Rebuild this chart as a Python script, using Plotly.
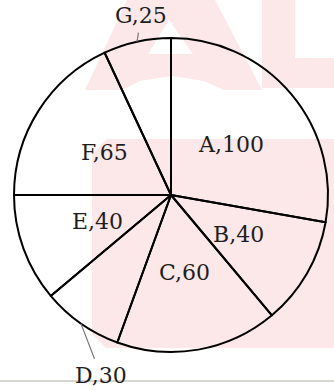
import numpy as np
import plotly.graph_objects as go

# slice labels and values (degrees of the circle)
labels = ['A', 'B', 'C', 'D', 'E', 'F', 'G']
values = [100, 40, 60, 30, 40, 65, 25]
outside = ['D', 'G']

W, H = 334, 390
CX, CY, R = 171, 195, 157   # pie centre and radius in pixels
PINK = '#fde8e9'


def px(x, y):
    # pixel position -> paper coordinates
    return x / W, 1 - y / H


def path(points):
    s = ''
    for i, (x, y) in enumerate(points):
        a, b = px(x, y)
        s += ('M' if i == 0 else 'L') + f'{a:.4f},{b:.4f} '
    return s + 'Z'


fig = go.Figure()
fig.add_trace(go.Pie(
    labels=labels,
    values=values,
    sort=False,
    direction='clockwise',
    rotation=0,
    textinfo='none',
    marker=dict(colors=['rgba(0,0,0,0)'] * len(labels),
                line=dict(color='#000000', width=2)),
    domain=dict(x=[(CX - R) / W, (CX + R) / W], y=[1 - (CY + R) / H, 1 - (CY - R) / H]),
    showlegend=False,
    hoverinfo='label+value',
))

# labels sit on each slice's middle angle
total = sum(values)
mid = (np.cumsum(values) - np.array(values) / 2) / total * 2 * np.pi
font = dict(family='DejaVu Serif', size=22, color='#1e1e1e')
annotations = []
for lab, val, ang in zip(labels, values, mid):
    dx, dy = np.sin(ang), -np.cos(ang)
    if lab in outside:
        ex, ey = px(CX + R * dx, CY + R * dy)
        off = (4, -26) if lab == 'G' else (20, 52)
        annotations.append(dict(x=ex, y=ey, xref='paper', yref='paper',
                                text=f'{lab},{val}', font=font, showarrow=True,
                                arrowhead=0, arrowwidth=1.2, arrowcolor='#777777',
                                ax=off[0], ay=off[1], standoff=0, startstandoff=3))
    else:
        tx, ty = px(CX + 0.5 * R * dx, CY + 0.5 * R * dy)
        annotations.append(dict(x=tx, y=ty, xref='paper', yref='paper',
                                xanchor='center', yanchor='middle',
                                text=f'{lab},{val}', font=font, showarrow=False))

# faint watermark behind the chart
wm = dict(line=dict(width=0), layer='below', xref='paper', yref='paper')
shapes = [
    dict(type='path', path=path([(92, 154), (92, 334), (106, 348), (340, 348),
                                 (340, 139), (107, 139)]), fillcolor=PINK, **wm),
    dict(type='path', path=path([(85, 90), (128, -2), (214, -2), (262, 90)]),
         fillcolor=PINK, **wm),
    dict(type='path', path=path([(118, 92), (140, 81), (172, 76), (204, 81), (228, 92)]),
         fillcolor='white', **wm),
    dict(type='path', path=path([(148, 54), (169, 20), (193, 54)]),
         fillcolor='white', **wm),
    dict(type='path', path=path([(262, -2), (295, -2), (295, 58), (340, 58),
                                 (340, 88), (262, 88)]), fillcolor=PINK, **wm),
    # bottom rule
    dict(type='line', x0=0, x1=1, y0=px(0, 381)[1], y1=px(0, 381)[1],
         xref='paper', yref='paper', line=dict(color='#c8cac2', width=1.5)),
]

fig.update_layout(
    width=W, height=H,
    margin=dict(l=0, r=0, t=0, b=0),
    paper_bgcolor='white',
    plot_bgcolor='white',
    shapes=shapes,
    annotations=annotations,
)

fig.write_html('out.html', config={'displayModeBar': False},
               post_script="document.body.style.margin='0';")
